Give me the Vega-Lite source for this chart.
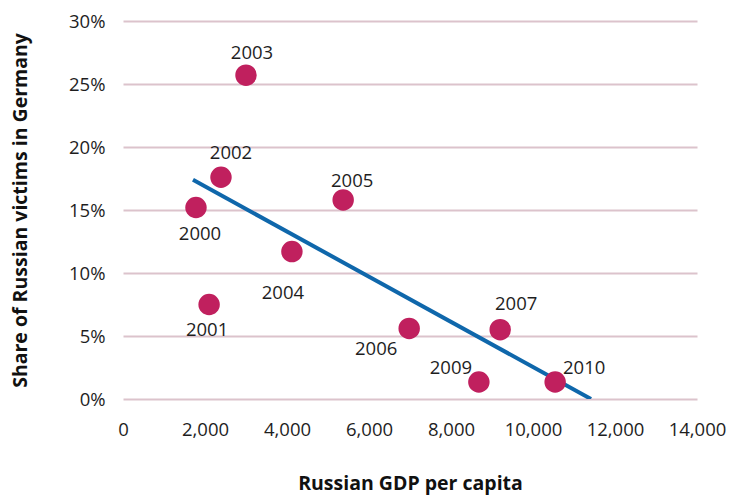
{
  "$schema": "https://vega.github.io/schema/vega-lite/v6.json",
  "autosize": "none",
  "width": 574,
  "height": 378,
  "padding": {"left": 123, "top": 21, "right": 37, "bottom": 103},
  "background": "white",
  "config": {
    "view": {"stroke": null},
    "font": "Open Sans",
    "axis": {"domain": false, "ticks": false, "labelFont": "Open Sans", "titleFont": "Open Sans", "labelColor": "#1e1e1e", "titleColor": "#111111"}
  },
  "datasets": {
    "pts": [
      {"year": "2000", "gdp": 1780, "share": 0.152},
      {"year": "2001", "gdp": 2100, "share": 0.075},
      {"year": "2002", "gdp": 2390, "share": 0.176},
      {"year": "2003", "gdp": 3000, "share": 0.257},
      {"year": "2004", "gdp": 4120, "share": 0.117},
      {"year": "2005", "gdp": 5370, "share": 0.158},
      {"year": "2006", "gdp": 6980, "share": 0.056},
      {"year": "2007", "gdp": 9200, "share": 0.055},
      {"year": "2009", "gdp": 8680, "share": 0.0135},
      {"year": "2010", "gdp": 10540, "share": 0.0135}
    ],
    "trend": [
      {"gdp": 1707, "share": 0.174},
      {"gdp": 11415, "share": 0.0}
    ]
  },
  "encoding": {
    "x": {"field": "gdp", "type": "quantitative",
      "scale": {"domain": [0, 14000], "nice": false},
      "axis": {"values": [0, 2000, 4000, 6000, 8000, 10000, 12000, 14000], "format": ",.0f", "grid": false, "labelFontSize": 18.5, "labelPadding": 21, "title": "Russian GDP per capita", "titleFontSize": 19.5, "titleFontWeight": "bold", "titlePadding": 36, "labelFlush": false}},
    "y": {"field": "share", "type": "quantitative",
      "scale": {"domain": [0, 0.3], "nice": false},
      "axis": {"values": [0, 0.05, 0.1, 0.15, 0.2, 0.25, 0.3], "format": ".0%", "grid": true, "gridColor": "#dcc3cc", "gridWidth": 2, "labelFontSize": 18.5, "labelPadding": 18, "title": "Share of Russian victims in Germany", "titleFontSize": 19.5, "titleFontWeight": "bold", "titlePadding": 38}}
  },
  "layer": [
    {"data": {"name": "trend"}, "mark": {"type": "line", "color": "#0f67ab", "strokeWidth": 4, "clip": true}},
    {"data": {"name": "pts"}, "mark": {"type": "circle", "color": "#c0205e", "opacity": 1, "size": 460}},
    {"data": {"name": "pts"}, "transform": [{"filter": "datum.year == '2003'"}], "mark": {"type": "text", "fontSize": 18.5, "color": "#1e1e1e", "dx": 6, "dy": -22}, "encoding": {"text": {"field": "year"}}},
    {"data": {"name": "pts"}, "transform": [{"filter": "datum.year == '2002'"}], "mark": {"type": "text", "fontSize": 18.5, "color": "#1e1e1e", "dx": 10, "dy": -24}, "encoding": {"text": {"field": "year"}}},
    {"data": {"name": "pts"}, "transform": [{"filter": "datum.year == '2000'"}], "mark": {"type": "text", "fontSize": 18.5, "color": "#1e1e1e", "dx": 4, "dy": 27}, "encoding": {"text": {"field": "year"}}},
    {"data": {"name": "pts"}, "transform": [{"filter": "datum.year == '2001'"}], "mark": {"type": "text", "fontSize": 18.5, "color": "#1e1e1e", "dx": -2, "dy": 25}, "encoding": {"text": {"field": "year"}}},
    {"data": {"name": "pts"}, "transform": [{"filter": "datum.year == '2004'"}], "mark": {"type": "text", "fontSize": 18.5, "color": "#1e1e1e", "dx": -9, "dy": 41}, "encoding": {"text": {"field": "year"}}},
    {"data": {"name": "pts"}, "transform": [{"filter": "datum.year == '2005'"}], "mark": {"type": "text", "fontSize": 18.5, "color": "#1e1e1e", "dx": 9, "dy": -19}, "encoding": {"text": {"field": "year"}}},
    {"data": {"name": "pts"}, "transform": [{"filter": "datum.year == '2006'"}], "mark": {"type": "text", "fontSize": 18.5, "color": "#1e1e1e", "dx": -33, "dy": 21}, "encoding": {"text": {"field": "year"}}},
    {"data": {"name": "pts"}, "transform": [{"filter": "datum.year == '2007'"}], "mark": {"type": "text", "fontSize": 18.5, "color": "#1e1e1e", "dx": 16, "dy": -26}, "encoding": {"text": {"field": "year"}}},
    {"data": {"name": "pts"}, "transform": [{"filter": "datum.year == '2009'"}], "mark": {"type": "text", "fontSize": 18.5, "color": "#1e1e1e", "dx": -28, "dy": -14}, "encoding": {"text": {"field": "year"}}},
    {"data": {"name": "pts"}, "transform": [{"filter": "datum.year == '2010'"}], "mark": {"type": "text", "fontSize": 18.5, "color": "#1e1e1e", "dx": 29, "dy": -14}, "encoding": {"text": {"field": "year"}}}
  ]
}
